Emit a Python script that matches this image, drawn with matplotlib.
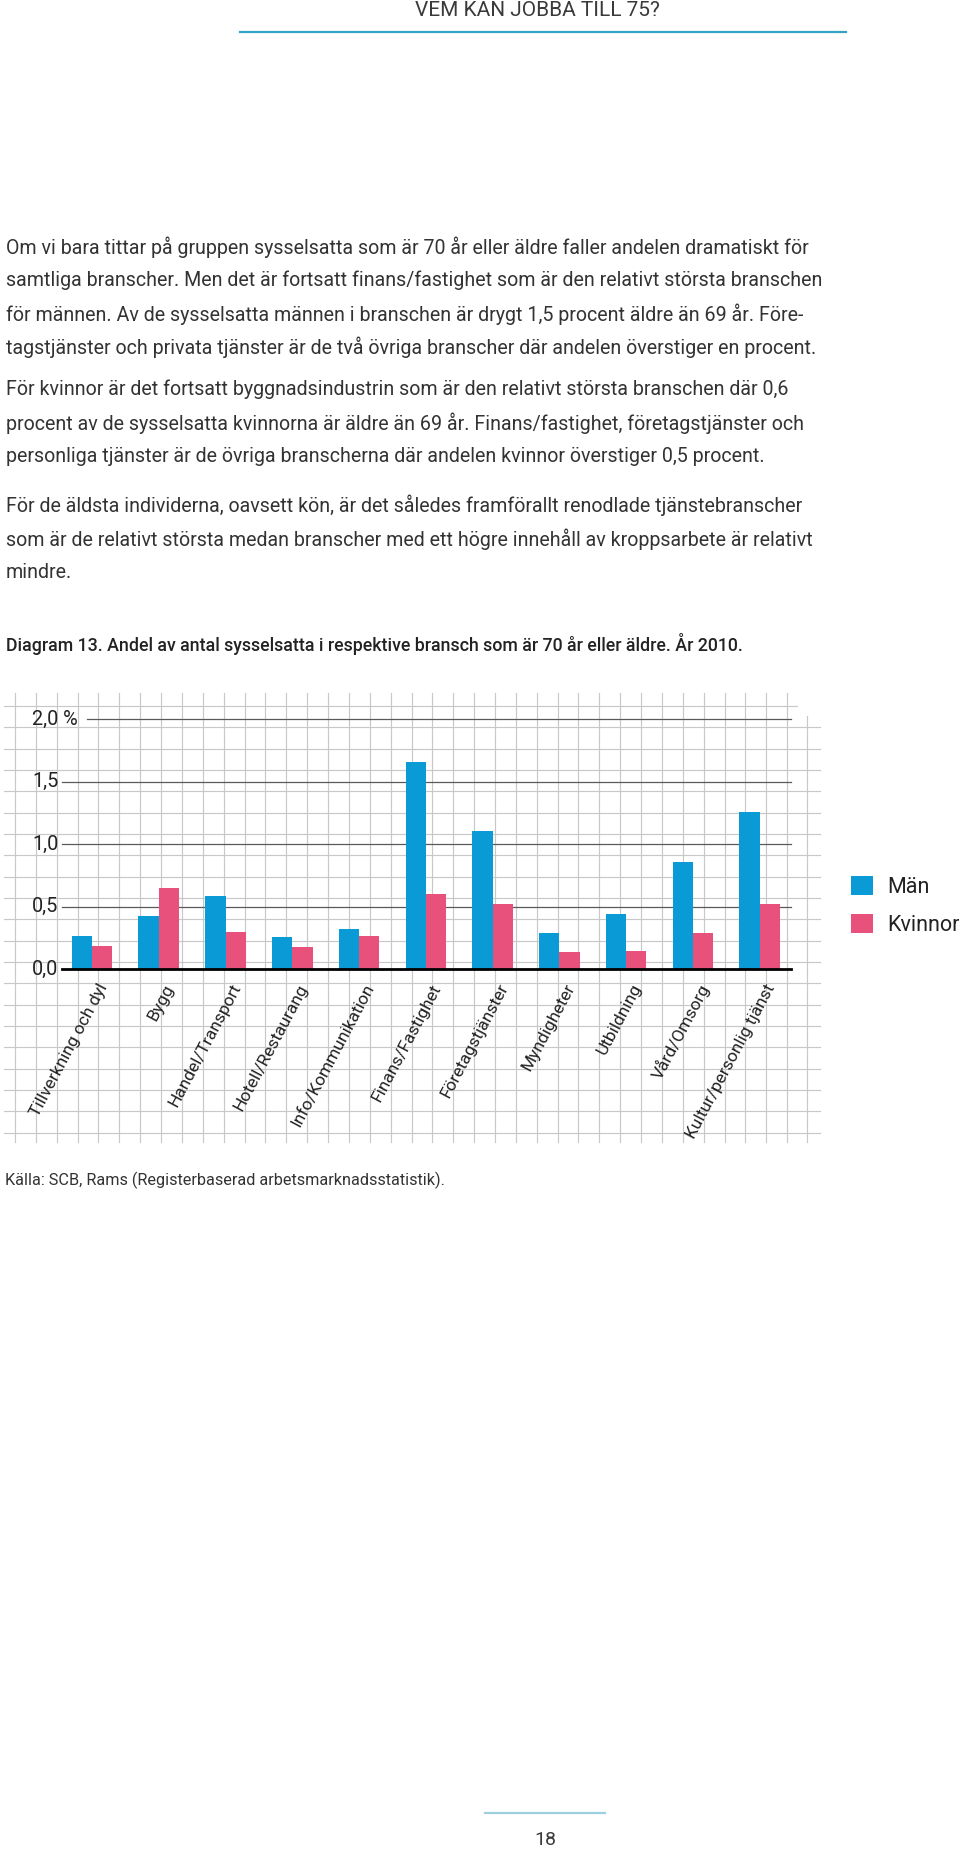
import numpy as np
import matplotlib
matplotlib.use('Agg')
import matplotlib.pyplot as plt
from matplotlib.transforms import blended_transform_factory, offset_copy

plt.rcParams['font.family'] = ['Roboto', 'DejaVu Sans']

# --- data ---
branscher = ['Tillverkning och dyl', 'Bygg', 'Handel/Transport', 'Hotell/Restaurang',
             'Info/Kommunikation', 'Finans/Fastighet', 'Företagstjänster', 'Myndigheter',
             'Utbildning', 'Vård/Omsorg', 'Kultur/personlig tjänst']
man = [0.27, 0.43, 0.59, 0.26, 0.32, 1.66, 1.11, 0.29, 0.44, 0.86, 1.26]
kvinnor = [0.19, 0.65, 0.30, 0.18, 0.27, 0.60, 0.52, 0.14, 0.15, 0.29, 0.52]
yticks = [0.0, 0.5, 1.0, 1.5, 2.0]
ytick_labels = ['0,0', '0,5', '1,0', '1,5', '2,0 %']

header = 'VEM KAN JOBBA TILL 75?'
paragraphs = [
    ['Om vi bara tittar på gruppen sysselsatta som är 70 år eller äldre faller andelen dramatiskt för',
     'samtliga branscher. Men det är fortsatt finans/fastighet som är den relativt största branschen',
     'för männen. Av de sysselsatta männen i branschen är drygt 1,5 procent äldre än 69 år. Före-',
     'tagstjänster och privata tjänster är de två övriga branscher där andelen överstiger en procent.'],
    ['För kvinnor är det fortsatt byggnadsindustrin som är den relativt största branschen där 0,6',
     'procent av de sysselsatta kvinnorna är äldre än 69 år. Finans/fastighet, företagstjänster och',
     'personliga tjänster är de övriga branscherna där andelen kvinnor överstiger 0,5 procent.'],
    ['För de äldsta individerna, oavsett kön, är det således framförallt renodlade tjänstebranscher',
     'som är de relativt största medan branscher med ett högre innehåll av kroppsarbete är relativt',
     'mindre.'],
]
para_y = [247, 389.5, 505.5]
title = 'Diagram 13. Andel av antal sysselsatta i respektive bransch som är 70 år eller äldre. År 2010.'
source = 'Källa: SCB, Rams (Registerbaserad arbetsmarknadsstatistik).'

BLUE = '#0a9bd6'
PINK = '#e8517b'
TEXT = '#333333'

W, H = 960, 1851
fig = plt.figure(figsize=(W / 100, H / 100), dpi=100)

# page axes in pixel coordinates
page = fig.add_axes([0, 0, 1, 1])
page.set_xlim(0, W)
page.set_ylim(H, 0)
page.axis('off')

# header
page.text(660, 16, header, ha='right', va='baseline', fontsize=15, color='#3a3a3a')
page.plot([240, 846], [32, 32], color='#35a3c6', lw=1.6)

# body text
line_h = 33.4
for lines, y0 in zip(paragraphs, para_y):
    for i, s in enumerate(lines):
        page.text(6, y0 + i * line_h, s, ha='left', va='center', fontsize=14.1, color=TEXT)

page.text(6, 643.5, title, ha='left', va='center', fontsize=12.8, color='#222222',
          fontweight='medium')

# graph-paper background
gx = 15 + 20.87 * np.arange(38)
gy = 706 + 21.33 * np.arange(21)
grid_kw = dict(color='#c8c8c8', lw=0.85, zorder=0)
for x in gx:
    page.plot([x, x], [693, 1142], **grid_kw)
page.plot([807, 807], [716, 1142], **grid_kw)
for k, y in enumerate(gy):
    page.plot([4, 797 if k == 0 else 820], [y, y], **grid_kw)

page.text(5, 1180, source, ha='left', va='center', fontsize=11.7, color=TEXT)

# footer
page.plot([485, 605], [1812.5, 1812.5], color='#9ccfe0', lw=1.6)
page.text(545, 1840, '18', ha='center', va='center', fontsize=14, color='#3a3a3a')

# bar chart axes: left 61.7px, right 790.7px, y=0 at 969.3px, y=2 at 719.3px
left, right, y0px, y2px = 61.7, 790.7, 969.3, 719.3
ax = fig.add_axes([left / W, 1 - y0px / H, (right - left) / W, (y0px - y2px) / H])
ax.set_facecolor('none')
for sp in ax.spines.values():
    sp.set_visible(False)

x = np.arange(len(branscher))
step = 66.77
ax.set_xlim((left - 92) / step, (right - 92) / step)
ax.set_ylim(0, 2.0)
bw = 20.3 / step

for yv in yticks[1:]:
    xmin = (87 - left) / (right - left) if yv == 2.0 else 0
    ax.axhline(yv, xmin=xmin, xmax=1, color='#5a5a5a', lw=0.9, zorder=1, clip_on=False)

b1 = ax.bar(x - bw / 2, man, width=bw, color=BLUE, zorder=2, label='Män')
b2 = ax.bar(x + bw / 2, kvinnor, width=bw, color=PINK, zorder=2, label='Kvinnor')
ax.axhline(0, color='black', lw=2.0, zorder=3, clip_on=False)

ax.set_xticks([])
ax.set_yticks([])

ytr = blended_transform_factory(ax.transAxes, ax.transData)
for yv, lab in zip(yticks, ytick_labels):
    ax.text((32 - left) / (right - left), yv, lab, transform=ytr, ha='left', va='center',
            fontsize=14.3, color='#222222')

xtr = blended_transform_factory(ax.transData, ax.transAxes)
lab_tr = offset_copy(xtr, fig=fig, x=5, y=-12, units='dots')
for xi, lab in zip(x, branscher):
    ax.text(xi, 0, lab, transform=lab_tr, rotation=62, rotation_mode='anchor',
            ha='right', va='top', fontsize=12.5, color='#222222')

ax.legend(handles=[b1, b2], loc='upper left', frameon=False,
          bbox_to_anchor=(851 / W, 1 - 876 / H), bbox_transform=fig.transFigure,
          fontsize=15.5, handlelength=1.0, handleheight=1.0, handletextpad=0.7,
          labelspacing=0.72, borderpad=0, borderaxespad=0, labelcolor='#222222')

fig.savefig('out.png', dpi=100)
